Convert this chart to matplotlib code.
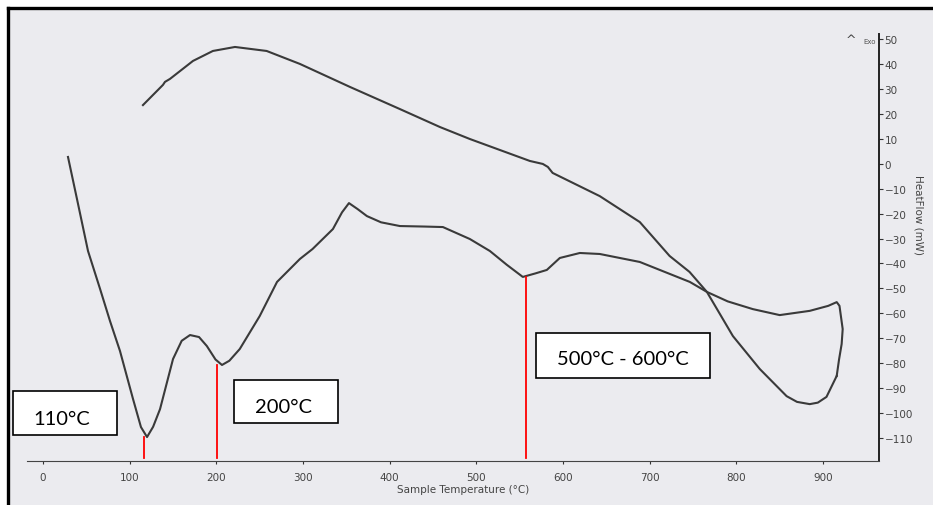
import matplotlib.pyplot as plt
from matplotlib.patches import Rectangle

# heating run (lower trace), sample temperature (C) vs heat flow (mW)
heat_T = [28.8, 39.2, 51.9, 65.8, 77.3, 88.8, 103.8, 113, 120, 127, 135, 150, 160, 169.6,
          180, 189, 199, 206.5, 215, 227, 250, 270, 296.4, 311, 334.5, 345, 353,
          363, 373.7, 390, 411.8, 440, 461.4, 492.5, 515.6, 535, 553.6, 568, 581.3,
          596.3, 619.4, 642.4, 688.6, 746.3, 766, 790, 819, 850, 884.7, 906, 915.8,
          919, 922.7, 921.5, 918.5, 915.8]
heat_HF = [2.7, -14.2, -35.0, -50.2, -63.1, -75.1, -94.3, -105.6, -109.6, -105.5, -98.4, -78.3,
           -71, -68.7, -69.5, -73.1, -78.5, -80.7, -79, -74.3, -61.1, -47.4, -38.2, -34.2,
           -26.2, -19.5, -15.8, -18.2, -21, -23.5, -25, -25.2, -25.4, -30.2, -35, -40.5,
           -45.4, -44, -42.6, -37.8, -35.8, -36.2, -39.4, -47.4, -51.4, -55.2, -58.3, -60.7,
           -59, -57, -55.5, -57, -66.3, -72.3, -78.5, -85.1]

# cooling run back down (upper trace)
cool_T = [915.8, 904, 894, 884.7, 870, 858, 827, 796, 766, 746, 723, 688.6, 642.4, 588,
          582.5, 576.7, 561.7, 492.5, 458, 411.8, 354, 296.4, 258, 221.5, 196, 173,
          146.5, 140.7, 138.4, 115.3]
cool_HF = [-85.1, -93.5, -95.8, -96.4, -95.5, -93.2, -82.3, -69.1, -51.4, -43.4, -37, -23.4,
           -13, -3.7, -1.3, -0.1, 1.1, 9.9, 14.7, 21.9, 30.8, 40, 45.2, 46.8, 45.2, 41.2,
           34, 32.8, 31.6, 23.5]

# marked events: temperature, heat flow at the curve
event_T = [117, 201, 557]
event_HF = [-109.6, -80.7, -45.4]
event_labels = ['110°C', '200°C', '500°C - 600°C']

x_ticks = [0, 100, 200, 300, 400, 500, 600, 700, 800, 900]
y_ticks = list(range(-110, 51, 10))

bg = '#ebebef'
fig = plt.figure(figsize=(9.33, 5.06), dpi=100)
# scanned page background, framed only on top and left
fig.patches.append(Rectangle((8 / 933, 0), 1, 1 - 9 / 506, transform=fig.transFigure,
                             facecolor=bg, edgecolor='none', zorder=-2))
fig.add_artist(plt.Line2D([8 / 933, 8 / 933], [0, 1 - 9 / 506], transform=fig.transFigure,
                          color='black', lw=2.4, zorder=-1))
fig.add_artist(plt.Line2D([8 / 933, 1], [1 - 9 / 506, 1 - 9 / 506], transform=fig.transFigure,
                          color='black', lw=2.4, zorder=-1))

ax = fig.add_axes([27 / 933, 44 / 506, 852 / 933, 427 / 506])
ax.set_facecolor('none')
ax.plot(heat_T, heat_HF, color='#3a3a3a', lw=1.5, solid_joinstyle='round')
ax.plot(cool_T, cool_HF, color='#3a3a3a', lw=1.5, solid_joinstyle='round')

ax.set_xlim(-18.5, 964.6)
ax.set_ylim(-119.2, 52)

for t, hf in zip(event_T, event_HF):
    ax.plot([t, t], [-118, hf], color='red', lw=1.3)

# annotation boxes: (left, right, bottom, top) in axis units, and text centre
boxes = [(-34.6, 85.4, -108.8, -91.1), (220.4, 340.4, -104.0, -86.7), (568.8, 769.6, -85.9, -67.9)]
text_pos = [(21.3, -102.0), (277.5, -97.2), (669.0, -78.3)]
for (x0, x1, y0, y1), (tx, ty), lab in zip(boxes, text_pos, event_labels):
    ax.add_patch(Rectangle((x0, y0), x1 - x0, y1 - y0, facecolor='white', edgecolor='black',
                           lw=1.2, clip_on=False, zorder=3))
    ax.text(tx, ty, lab, fontsize=14.5, family='Lato', ha='center', va='center', zorder=4)

for s in ['top', 'left']:
    ax.spines[s].set_visible(False)
ax.spines['bottom'].set_color('#444444')
ax.spines['right'].set_color('#222222')
ax.spines['right'].set_linewidth(1.4)
ax.yaxis.tick_right()
ax.set_xticks(x_ticks)
ax.set_yticks(y_ticks)
ax.tick_params(axis='y', length=3, pad=1, labelsize=7.5, labelcolor='#444444', color='#333333')
ax.tick_params(axis='x', length=2, pad=6, labelsize=7.5, labelcolor='#444444', color='#333333')

fig.text(463 / 933, 1 - 490 / 506, 'Sample Temperature (°C)', ha='center', va='center',
         fontsize=7.5, color='#444444')
fig.text(918 / 933, 1 - 215 / 506, 'HeatFlow (mW)', ha='center', va='center', rotation=270,
         fontsize=7.5, color='#444444')
fig.text(851 / 933, 1 - 40 / 506, '^', ha='center', va='center', fontsize=9, color='#444444')
fig.text(870 / 933, 1 - 42 / 506, 'Exo', ha='center', va='center', fontsize=5, color='#555555')

fig.savefig('out.png', dpi=100, facecolor='white')
